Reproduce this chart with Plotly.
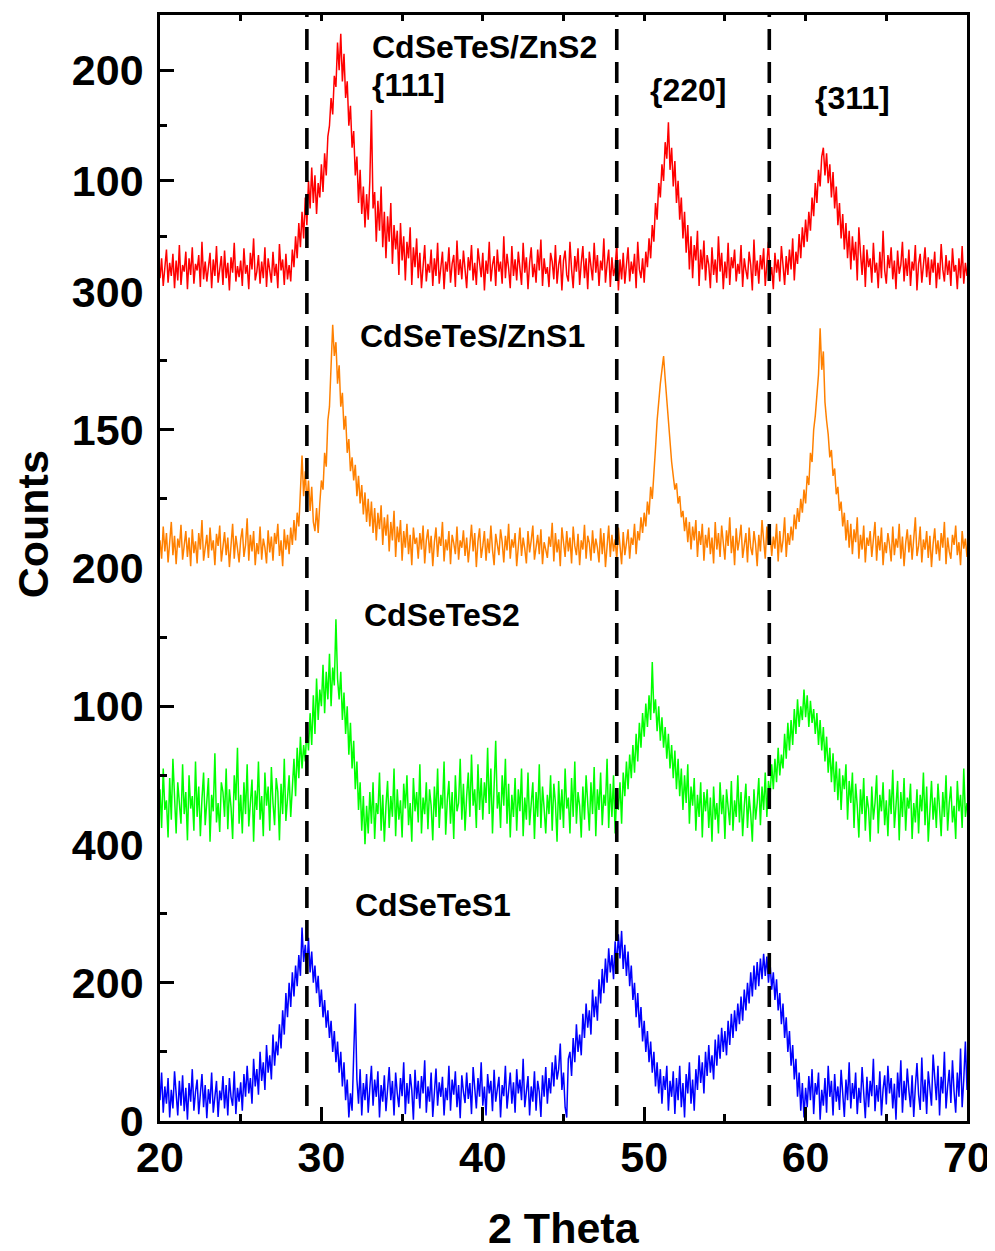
import numpy as np
import plotly.graph_objects as go

# ---------------- data ----------------
two_theta = np.round(np.arange(20.0, 70.0001, 0.1), 1)  # scan grid, 0.1 deg steps

cdsetes1 = [
    30,70,12,50,25,62,5,45,18,72, 40,8,58,22,66,14,48,2,55,28, 75,15,42,60,10,35,68,20,52,4,
    46,25,70,12,38,58,6,44,30,65, 18,52,8,62,35,22,72,10,48,28,
    56,15,68,35,80,40,62,25,90,50, 75,38,100,58,85,45,110,70,95,60,
    125,80,115,95,140,105,160,125,185,150, 200,165,215,180,225,195,240,210,280,230,
    255,220,265,215,245,200,225,185,210,165, 190,150,175,135,160,120,145,100,130,85,
    115,70,100,50,85,30,60,5,40,15, 95,170,60,25,75,8,55,30,68,12,
    48,80,22,60,35,72,5,52,28,66, 14,45,78,30,58,8,70,40,20,62, 36,85,10,55,25,68,45,2,74,32,
    58,18,65,40,88,12,50,28,70,6, 44,76,22,56,35,64,8,48,30,80, 15,60,38,72,20,52,4,66,42,26,
    70,32,55,10,78,45,18,62,35,85, 22,50,8,68,40,58,14,74,28,46, 64,5,52,36,80,18,44,70,25,56,
    12,75,40,60,30,90,20,48,65,8, 50,28,72,15,58,42,6,66,35,78,
    25,62,40,85,50,95,60,75,112,45, 70,20,5,90,100,65,120,85,140,100,
    125,95,155,120,170,135,160,125,190,150, 180,145,205,170,220,185,235,200,250,215,
    240,205,260,225,270,235,275,220,255,210, 245,195,225,175,200,150,185,135,165,115,
    145,100,130,85,115,70,100,50,85,40, 75,25,65,45,80,15,58,35,72,10,
    62,30,80,20,55,5,68,40,85,25, 60,15,75,45,95,55,85,40,100,65,
    110,70,95,60,118,80,125,90,135,100, 130,95,145,110,155,120,160,130,170,140,
    180,145,190,160,200,170,215,180,225,190, 230,195,235,205,242,210,238,200,228,190,
    215,175,205,160,185,140,170,120,150,100, 130,80,110,60,90,35,70,15,55,5,
    48,20,65,30,75,10,55,38,70,2, 45,22,62,12,80,35,58,8,68,28, 50,16,74,40,6,60,30,85,18,55,
    32,70,10,48,26,78,42,4,64,20, 58,36,90,14,52,28,72,8,46,66, 24,80,40,62,18,54,2,70,34,88,
    12,58,30,76,44,20,66,6,50,84, 38,16,92,28,60,10,72,45,22,96, 55,30,80,8,64,40,100,18,50,74,
    26,88,42,12,70,35,105,20,60,115, 45]

cdsetes2 = [
    40,12,55,25,32,5,48,18,62,28, 8,45,30,15,58,22,38,3,50,26, 35,10,60,20,42,6,33,52,14,28,
    48,2,36,24,66,16,30,9,45,38, 20,55,11,40,27,4,50,32,70,15, 36,8,45,22,58,13,30,47,2,39,
    25,60,18,35,6,52,28,42,10,56, 30,14,48,38,3,44,22,62,17,34,
    50,20,45,62,35,70,48,78,55,72, 60,85,68,95,72,108,80,120,90,112,
    100,130,95,125,105,138,100,128,115,163, 120,105,125,90,110,80,100,65,88,55,
    75,40,60,25,45,10,35,0,28,8, 38,15,45,4,30,22,52,10,36,2,
    28,46,12,35,20,55,6,40,18,32, 5,44,26,50,14,30,2,48,24,38, 16,58,8,34,22,45,11,40,28,3,
    42,20,55,12,36,26,60,7,32,46, 15,38,4,50,24,30,62,18,44,10, 35,52,20,65,28,40,12,58,25,48,
    18,45,30,70,22,55,8,42,75,26, 38,12,50,28,62,15,44,5,36,20, 48,10,40,24,55,6,34,18,52,14,
    30,45,4,38,20,58,12,42,26,8, 36,22,50,10,44,30,2,46,18,40, 12,55,26,34,8,48,20,60,15,38,
    28,5,42,18,50,32,10,45,22,56, 6,40,25,52,14,36,28,62,12,44,
    20,50,8,38,25,45,15,52,35,60, 40,65,48,72,52,80,60,88,70,95,
    78,102,85,108,90,132,95,105,82,100, 75,92,70,85,62,80,55,72,48,68,
    40,62,35,55,25,50,30,58,15,42, 28,48,10,36,20,45,5,38,24,40,
    12,34,2,42,18,30,8,45,22,36, 4,40,26,14,46,10,32,20,50,16, 38,6,28,44,12,35,22,2,40,18,
    30,48,14,42,25,52,20,46,35,58, 40,62,45,70,50,65,55,80,62,88,
    68,90,72,98,80,105,85,100,90,112, 92,108,85,104,88,98,80,95,72,90,
    68,85,60,78,52,70,45,66,38,60, 32,55,25,50,40,58,18,46,30,52,
    12,44,28,5,40,22,48,10,35,26, 2,42,18,30,50,8,36,24,45,14, 32,6,40,22,54,12,28,46,3,38,
    20,48,10,34,26,44,4,30,16,40, 8,36,24,52,14,42,2,28,46,18, 34,12,44,26,6,38,20,50,10,30,
    42,16,28,4,46,24,36,12,55,20, 30]

cdsetes_zns1 = [
    30,10,45,18,38,6,28,50,14,35, 4,32,22,47,9,26,40,12,33,2, 42,16,29,5,38,20,52,8,25,36,
    11,44,19,30,3,37,24,46,7,27, 39,14,33,1,28,48,10,35,21,6, 31,43,12,25,54,8,36,18,40,3,
    27,15,45,9,32,22,5,41,17,34, 8,38,26,48,13,30,2,42,20,36,
    15,44,25,52,30,60,45,85,122,78, 105,70,95,62,88,50,40,65,38,70,
    95,85,125,110,160,175,215,264,230,245, 200,220,175,190,150,165,125,140,105,120,
    95,112,78,100,70,90,58,82,50,75, 45,72,38,65,30,60,42,68,25,55,
    35,58,18,50,30,62,12,45,28,52, 8,40,22,48,15,36,3,44,26,33,
    10,38,20,46,5,30,42,16,35,2, 28,44,12,34,24,50,7,31,19,40, 4,36,27,15,45,9,30,22,41,13,
    33,6,25,47,18,38,1,29,43,11, 24,40,8,32,16,46,20,3,37,26, 14,42,28,6,35,19,48,10,31,22,
    38,2,27,44,13,33,21,5,40,17, 30,46,9,25,36,15,42,4,28,20, 11,34,23,49,7,38,17,31,2,44,
    26,12,40,18,33,5,45,24,14,37, 3,30,20,47,10,35,27,8,41,16, 32,22,6,43,15,38,1,29,46,12,
    36,18,31,9,44,24,4,39,14,27, 42,10,33,25,48,15,40,30,55,38,
    60,45,72,58,88,75,110,130,160,185, 200,215,230,205,180,160,138,115,100,85,
    92,70,78,55,62,40,55,28,50,20, 45,30,52,12,40,25,48,8,36,22,
    44,15,33,5,50,20,38,12,46,28, 9,41,24,55,16,35,3,43,19,31, 47,11,28,38,6,44,22,14,40,26,
    2,36,18,52,30,10,45,25,39,13, 34,21,48,7,40,17,30,55,12,38,
    25,45,30,58,42,65,50,75,60,85, 70,100,90,125,115,150,165,190,210,260,
    215,235,180,160,145,120,128,100,108,80, 88,62,72,45,60,30,52,22,48,15,
    42,28,55,10,36,20,46,6,33,24, 40,12,30,50,8,35,19,44,3,28, 16,38,25,7,45,14,32,22,48,10,
    34,2,27,42,17,36,9,29,55,13, 24,45,6,31,20,40,11,35,1,26, 43,15,30,8,38,22,50,4,33,18,
    10,36,25,46,14,28,3,40,21,32, 12]

cdsetes_zns2 = [
    12,30,5,22,38,8,26,14,34,3, 28,10,42,6,24,18,36,2,30,15, 40,7,25,19,33,4,45,11,27,9,
    22,35,3,29,14,41,8,20,32,6, 37,12,26,1,31,17,44,9,23,13, 28,5,39,16,24,2,35,20,48,10,
    18,33,7,27,12,40,4,30,21,8, 36,14,25,3,43,19,29,6,34,11,
    24,9,38,22,50,30,62,40,72,48, 85,60,100,75,112,80,105,70,98,85,
    115,90,125,105,140,150,175,160,195,185, 225,200,233,190,215,175,190,150,168,130,
    145,105,122,80,110,70,95,58,88,65, 100,164,75,90,45,82,55,95,40,72,
    30,68,45,80,25,60,38,55,15,62, 28,50,10,45,30,58,6,40,22,48,
    12,35,3,28,42,9,25,17,38,5, 30,14,44,7,22,36,2,27,18,40, 8,25,33,4,46,15,29,11,37,20,
    3,31,19,42,10,26,6,39,23,13, 35,1,28,16,45,9,24,32,5,38, 18,27,7,50,12,34,21,3,41,14,
    29,10,36,22,6,44,17,31,2,26, 40,13,25,8,38,19,47,5,30,16, 22,4,35,27,11,42,7,24,33,1,
    28,37,15,9,45,20,3,32,18,39, 6,26,41,12,30,2,36,23,10,44, 17,33,5,28,19,48,8,25,38,4,
    31,14,22,43,1,29,11,35,7,24, 40,9,27,16,34,3,45,20,12,30,
    8,36,22,48,30,60,45,80,65,98, 85,115,100,135,120,153,110,130,95,118,
    80,100,65,85,48,72,35,60,20,50, 12,42,28,55,5,38,20,46,10,33,
    24,3,40,15,29,8,50,18,35,2, 27,12,44,6,31,21,38,9,25,16, 42,4,30,19,11,36,24,1,47,14,
    28,7,33,20,39,5,26,45,13,22, 2,35,17,29,9,41,24,6,32,15,
    38,20,48,10,36,25,52,30,58,40, 65,45,72,55,85,68,98,80,110,95,
    122,130,105,125,98,115,85,108,75,95, 60,80,48,70,38,62,30,55,20,50,
    28,45,10,58,35,15,42,4,38,22, 30,8,44,17,26,3,36,12,55,19, 7,33,21,40,11,28,2,37,16,24,
    45,9,30,14,38,5,27,19,42,1, 25,34,8,22,40,13,31,6,29,17, 36,3,26,11,43,20,9,33,15,28,
    5,39,18,24,2,30,12,41,7,26, 14]

series_names = ["CdSeTeS1", "CdSeTeS2", "CdSeTeS/ZnS1", "CdSeTeS/ZnS2"]
series_values = [cdsetes1, cdsetes2, cdsetes_zns1, cdsetes_zns2]
series_colors = ["#0000FF", "#00FF00", "#FF8000", "#FF0000"]
panel_tops = [400, 200, 300, 250]
panel_tickvals = [[0, 200, 400], [100, 200], [150, 300], [100, 200]]
panel_minorvals = [[100, 300], [50, 150], [75, 225], [50, 150]]
x_tickvals = [20, 30, 40, 50, 60, 70]
plane_positions = [29.1, 48.3, 57.75]
plane_labels = ["{111]", "{220]", "{311]"]
x_title = "2 Theta"
y_title = "Counts"

# ---------------- figure ----------------
FONT = "Liberation Sans, Arial, sans-serif"
tickfont = dict(family=FONT, size=43, color="black", weight="bold")
LW = 2.6

fig = go.Figure()
axis_keys = [("x", "y"), ("x", "y2"), ("x", "y3"), ("x2", "y4")]
for vals, name, col, (xa, ya) in zip(series_values, series_names, series_colors, axis_keys):
    fig.add_trace(go.Scatter(x=two_theta, y=vals, mode="lines", name=name,
                             line=dict(color=col, width=1.5), xaxis=xa, yaxis=ya,
                             showlegend=False, hoverinfo="skip"))

layout = dict(
    width=995, height=1251,
    margin=dict(l=152, r=36, t=7, b=138, autoexpand=False),
    paper_bgcolor="white", plot_bgcolor="white",
    showlegend=False,
    xaxis=dict(domain=[0, 1], anchor="y", range=[20, 70], tickmode="array",
               tickvals=x_tickvals, ticktext=[str(v) for v in x_tickvals],
               ticks="inside", ticklen=14, tickwidth=LW, tickcolor="black",
               showline=True, linewidth=LW, linecolor="black", showgrid=False,
               zeroline=False, tickfont=tickfont, ticklabelstandoff=-3, automargin=False,
               minor=dict(dtick=5, tick0=20, ticks="inside", ticklen=7,
                          tickwidth=LW, tickcolor="black", showgrid=False)),
    xaxis2=dict(domain=[0, 1], anchor="y4", side="top", range=[20, 70],
                tickmode="linear", tick0=20, dtick=5, ticks="inside", ticklen=6,
                tickwidth=LW, tickcolor="black", showticklabels=False,
                showline=True, linewidth=LW, linecolor="black", showgrid=False,
                zeroline=False, automargin=False),
)
for i in range(4):
    key = "yaxis" if i == 0 else f"yaxis{i+1}"
    ref = "y" if i == 0 else f"y{i+1}"
    layout[key] = dict(
        domain=[i * 0.25, (i + 1) * 0.25], anchor="x" if i < 3 else "x2",
        range=[0, panel_tops[i]], tickmode="array", tickvals=panel_tickvals[i],
        ticktext=[str(v) for v in panel_tickvals[i]],
        ticks="inside", ticklen=14, tickwidth=LW, tickcolor="black",
        showline=True, linewidth=LW, linecolor="black", mirror=True,
        showgrid=False, zeroline=False, tickfont=tickfont, ticklabelstandoff=5,
        automargin=False,
        minor=dict(tickmode="array", tickvals=panel_minorvals[i], ticks="inside",
                   ticklen=7, tickwidth=LW, tickcolor="black", showgrid=False),
    )
    # short inward ticks on the right-hand frame
    layout[f"yaxis{i+5}"] = dict(
        overlaying=ref, side="right", anchor="x" if i < 3 else "x2",
        range=[0, panel_tops[i]], tickmode="array",
        tickvals=sorted(panel_tickvals[i] + panel_minorvals[i]),
        ticks="inside", ticklen=5, tickwidth=LW, tickcolor="black",
        showticklabels=False, showline=False, showgrid=False, zeroline=False,
        automargin=False,
    )
fig.update_layout(**layout)

# dashed reference lines at the reflections
for xp in plane_positions:
    fig.add_shape(type="line", xref="x", yref="paper", x0=xp, x1=xp, y0=0.0136, y1=1,
                  line=dict(color="black", width=3.6, dash="21px,12px"))

labfont = dict(family=FONT, size=32, color="black", weight="bold")
label_pos = {  # (x in data units, y in paper units)
    "CdSeTeS/ZnS2": (33.0, 0.971),
    "CdSeTeS/ZnS1": (32.27, 0.710),
    "CdSeTeS2": (32.52, 0.4575),
    "CdSeTeS1": (31.96, 0.1953),
}
for name in series_names:
    xx, yy = label_pos[name]
    fig.add_annotation(text=name, x=xx, y=yy, xref="x", yref="paper",
                       xanchor="left", yanchor="middle", showarrow=False, font=labfont)
plane_pos = [(33.0, 0.9367), (50.23, 0.9322), (60.46, 0.925)]
for lab, (xx, yy) in zip(plane_labels, plane_pos):
    fig.add_annotation(text=lab, x=xx, y=yy, xref="x", yref="paper",
                       xanchor="left", yanchor="middle", showarrow=False, font=labfont)

titlefont = dict(family=FONT, size=43, color="black", weight="bold")
fig.add_annotation(text=x_title, x=0.5, y=-0.0967, xref="paper", yref="paper",
                   xanchor="center", yanchor="middle", showarrow=False, font=titlefont)
fig.add_annotation(text=y_title, x=-0.158, y=0.54, xref="paper", yref="paper",
                   xanchor="center", yanchor="middle", textangle=-90, showarrow=False,
                   font=titlefont)

fig.write_html("out.html")
